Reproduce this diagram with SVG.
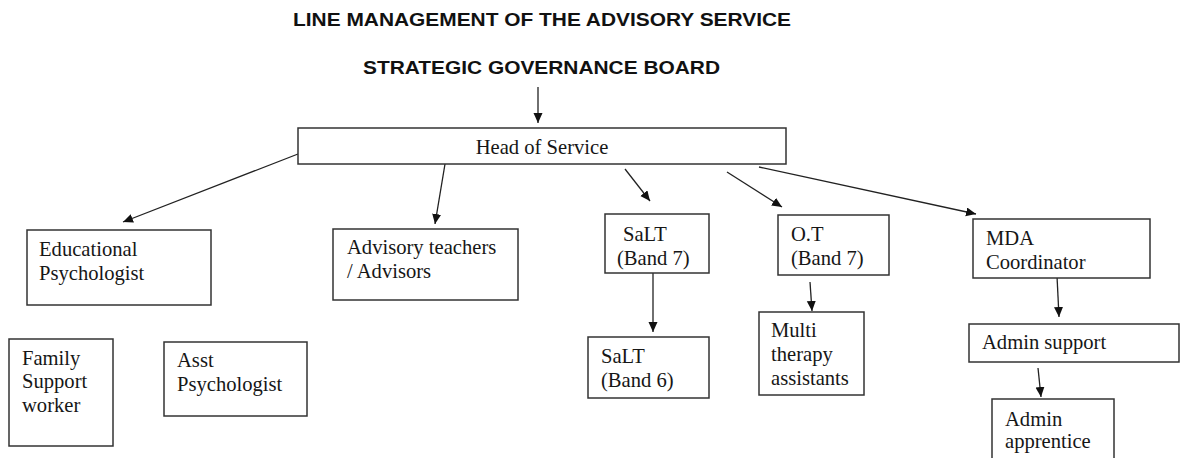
<svg xmlns="http://www.w3.org/2000/svg" width="1186" height="458" viewBox="0 0 1186 458">
<style>
.title{font-family:"Liberation Sans",Arial,sans-serif;font-weight:bold;font-size:19px;fill:#111}
.box{fill:#fff;stroke:#333;stroke-width:1.5}
.lbl{font-family:"Liberation Serif","Times New Roman","DejaVu Serif",serif;font-size:20.6px;fill:#161616}
.conn{stroke:#222;stroke-width:1.3;fill:none;marker-end:url(#ah)}
</style>
<defs>
<marker id="ah" markerUnits="userSpaceOnUse" markerWidth="11" markerHeight="10" refX="10" refY="4.5" orient="auto">
<path d="M0,0 L10,4.5 L0,9 z" fill="#111"/>
</marker>
</defs>
<rect width="1186" height="458" fill="#fff"/>
<text class="title" x="293" y="26" textLength="498" lengthAdjust="spacingAndGlyphs">LINE MANAGEMENT OF THE ADVISORY SERVICE</text>
<text class="title" x="363" y="74" textLength="357" lengthAdjust="spacingAndGlyphs">STRATEGIC GOVERNANCE BOARD</text>
<g id="connectors">
<line class="conn" x1="538" y1="87" x2="538" y2="123"/>
<line class="conn" x1="298" y1="154" x2="123" y2="222"/>
<line class="conn" x1="445" y1="164" x2="435" y2="224"/>
<line class="conn" x1="625" y1="169" x2="650" y2="201"/>
<line class="conn" x1="727" y1="172" x2="782" y2="207"/>
<line class="conn" x1="759" y1="167" x2="976" y2="214"/>
<line class="conn" x1="653" y1="273" x2="653" y2="332"/>
<line class="conn" x1="810" y1="282" x2="812" y2="311"/>
<line class="conn" x1="1057" y1="276" x2="1059" y2="317"/>
<line class="conn" x1="1038" y1="368" x2="1041" y2="397"/>
</g>
<g id="head">
<rect class="box" x="298" y="128" width="488" height="36"/>
<text class="lbl" x="542" y="154" text-anchor="middle">Head of Service</text>
</g>
<g id="edpsych">
<rect class="box" x="27" y="230" width="184" height="75"/>
<text class="lbl" x="39" y="256">Educational</text>
<text class="lbl" x="39" y="280">Psychologist</text>
</g>
<g id="advisory">
<rect class="box" x="333" y="229" width="185" height="71"/>
<text class="lbl" x="347" y="254">Advisory teachers</text>
<text class="lbl" x="347" y="278">/ Advisors</text>
</g>
<g id="salt7">
<rect class="box" x="605" y="214" width="104" height="59"/>
<text class="lbl" x="623" y="241">SaLT</text>
<text class="lbl" x="617" y="265">(Band 7)</text>
</g>
<g id="ot">
<rect class="box" x="778" y="215" width="111" height="60"/>
<text class="lbl" x="791" y="241">O.T</text>
<text class="lbl" x="791" y="265">(Band 7)</text>
</g>
<g id="mda">
<rect class="box" x="973" y="219" width="177" height="59"/>
<text class="lbl" x="986" y="245">MDA</text>
<text class="lbl" x="986" y="269">Coordinator</text>
</g>
<g id="family">
<rect class="box" x="9" y="339" width="104" height="107"/>
<text class="lbl" x="22" y="365">Family</text>
<text class="lbl" x="22" y="388">Support</text>
<text class="lbl" x="22" y="412">worker</text>
</g>
<g id="asst">
<rect class="box" x="164" y="342" width="143" height="74"/>
<text class="lbl" x="177" y="367">Asst</text>
<text class="lbl" x="177" y="391">Psychologist</text>
</g>
<g id="salt6">
<rect class="box" x="588" y="337" width="121" height="61"/>
<text class="lbl" x="601" y="363">SaLT</text>
<text class="lbl" x="601" y="387">(Band 6)</text>
</g>
<g id="multi">
<rect class="box" x="759" y="312" width="105" height="83"/>
<text class="lbl" x="771" y="337">Multi</text>
<text class="lbl" x="771" y="361">therapy</text>
<text class="lbl" x="771" y="385">assistants</text>
</g>
<g id="adminsupport">
<rect class="box" x="969" y="324" width="210" height="38"/>
<text class="lbl" x="982" y="349">Admin support</text>
</g>
<g id="apprentice">
<rect class="box" x="992" y="399" width="122" height="70"/>
<text class="lbl" x="1005" y="426">Admin</text>
<text class="lbl" x="1005" y="448">apprentice</text>
</g>
</svg>
